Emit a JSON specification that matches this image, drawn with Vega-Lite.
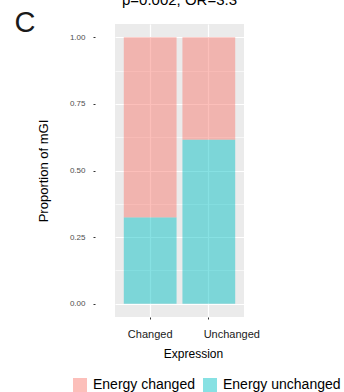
{
  "$schema": "https://vega.github.io/schema/vega-lite/v6.json",
  "autosize": {"type": "none"},
  "width": 129,
  "height": 293,
  "padding": {"left": 115, "top": 24, "right": 100, "bottom": 75},
  "background": "white",
  "config": {
    "font": "Liberation Sans",
    "view": {"fill": "#EBEBEB", "stroke": null}
  },
  "title": {
    "text": "p=0.002, OR=3.3",
    "fontSize": 15,
    "fontWeight": "normal",
    "color": "#000000",
    "anchor": "middle",
    "offset": 0
  },
  "data": {
    "values": [
      {"expression": "Changed", "energy": "Energy changed", "proportion": 0.676},
      {"expression": "Changed", "energy": "Energy unchanged", "proportion": 0.324},
      {"expression": "Unchanged", "energy": "Energy changed", "proportion": 0.385},
      {"expression": "Unchanged", "energy": "Energy unchanged", "proportion": 0.615}
    ]
  },
  "layer": [
    {
      "mark": {"type": "bar", "opacity": 0.47},
      "encoding": {
        "x": {
          "field": "expression",
          "type": "nominal",
          "scale": {"paddingInner": 0.1, "paddingOuter": 0.15},
          "axis": {
            "title": "Expression",
            "titleFontSize": 12,
            "titleFontWeight": "normal",
            "titleColor": "#000000",
            "titlePadding": 9,
            "titleX": 78,
            "labelAngle": 0,
            "labelFontSize": 11,
            "labelColor": "#1A1A1A",
            "labelPadding": 9,
            "labelOffset": {"condition": {"test": "datum.value === 'Unchanged'", "value": 23}, "value": 0},
            "domain": false,
            "ticks": true,
            "tickSize": 2,
            "tickColor": "#333333",
            "grid": true,
            "gridColor": "#FFFFFF",
            "gridWidth": 1.2,
            "orient": "bottom"
          }
        },
        "y": {
          "field": "proportion",
          "type": "quantitative",
          "stack": "zero",
          "scale": {"domain": [-0.05, 1.05], "nice": false, "zero": false},
          "axis": {
            "title": "Proportion of mGI",
            "titleFontSize": 13,
            "titleFontWeight": "normal",
            "titleColor": "#000000",
            "titlePadding": 19,
            "values": [0, 0.125, 0.25, 0.375, 0.5, 0.625, 0.75, 0.875, 1],
            "labelExpr": "datum.value % 0.25 === 0 ? format(datum.value, '.2f') : ''",
            "labelFontSize": 8,
            "labelColor": "#4D4D4D",
            "labelPadding": 8,
            "offset": 20,
            "domain": false,
            "tickSize": 2,
            "tickColor": "#333333",
            "tickOpacity": {"condition": {"test": "datum.value % 0.25 === 0", "value": 1}, "value": 0},
            "grid": true,
            "gridColor": "#FFFFFF",
            "gridWidth": {"condition": {"test": "datum.value % 0.25 === 0", "value": 1.2}, "value": 0.6}
          }
        },
        "color": {
          "field": "energy",
          "type": "nominal",
          "scale": {"domain": ["Energy changed", "Energy unchanged"], "range": ["#F8766D", "#00BFC4"]},
          "legend": {
            "title": null,
            "orient": "none",
            "legendX": -42,
            "legendY": 354,
            "direction": "horizontal",
            "padding": 0,
            "symbolType": "square",
            "symbolSize": 196,
            "symbolStrokeWidth": 0,
            "symbolOpacity": 0.47,
            "labelFontSize": 14,
            "labelColor": "#000000",
            "labelOffset": 6,
            "columnPadding": 8
          }
        },
        "order": {"field": "energy", "sort": "descending"}
      }
    },
    {
      "mark": {"type": "bar", "opacity": 0},
      "encoding": {
        "x": {
          "field": "expression",
          "type": "nominal",
          "axis": {
            "orient": "top",
            "title": "C",
            "titleFontSize": 29,
            "titleFontWeight": "normal",
            "titleColor": "#1A1A1A",
            "titleAnchor": "start",
            "titleAlign": "left",
            "titleBaseline": "alphabetic",
            "titleX": -101,
            "titleY": 7,
            "labels": false,
            "ticks": false,
            "domain": false,
            "grid": false
          }
        }
      }
    }
  ],
  "resolve": {"axis": {"x": "independent"}}
}
